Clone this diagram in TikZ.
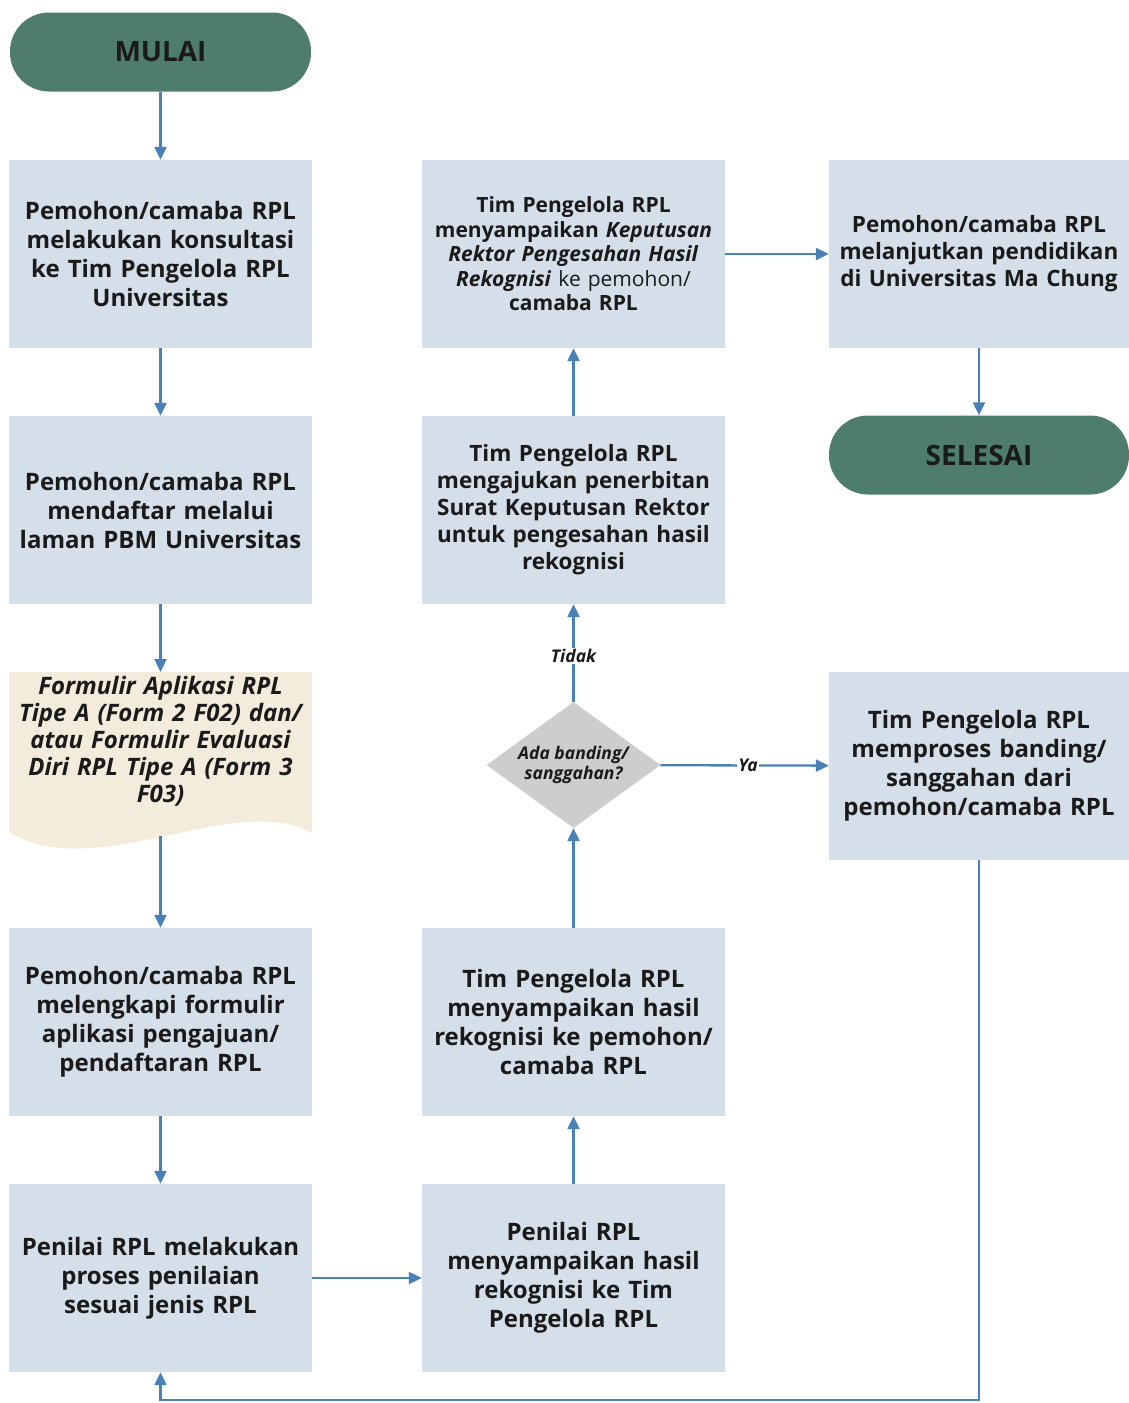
\documentclass[tikz,border=0pt]{standalone}
\usepackage{fontspec}
\setmainfont{Open Sans}
\usetikzlibrary{shapes.geometric,arrows.meta}
\definecolor{boxc}{HTML}{D5DFE9}
\definecolor{termc}{HTML}{4E7C6D}
\definecolor{arrc}{HTML}{4A80B8}
\definecolor{docc}{HTML}{F3EBDB}
\definecolor{diac}{HTML}{CDCDCD}
\definecolor{txtc}{HTML}{1A1A1A}
\tikzset{
  procbox/.style={rectangle, fill=boxc, minimum width=303pt, minimum height=188pt, text width=298pt, align=center, text=txtc, inner sep=0pt, font=\fontsize{24}{29}\selectfont\bfseries},
  termbox/.style={rectangle, rounded corners=39pt, fill=termc, minimum width=301pt, minimum height=79pt, text=txtc, font=\fontsize{28}{30}\selectfont\bfseries},
  decbox/.style={diamond, fill=diac, minimum width=174pt, minimum height=126pt, aspect=1.38, inner sep=0pt, align=center, text=txtc, font=\fontsize{17.5}{20}\selectfont\bfseries\itshape},
  flow/.style={draw=arrc, line width=2.3pt, -{Triangle[length=13pt,width=12pt]}},
  lbl/.style={fill=white, inner sep=1pt, text=txtc, font=\fontsize{17.5}{20}\selectfont\bfseries\itshape}
}
\begin{document}
\begin{tikzpicture}[x=1pt,y=-1pt]
\useasboundingbox (0,0) rectangle (1129,1403);
% left column
\node[termbox] (mulai) at (160.5,52) {MULAI};
\node[procbox] (b1) at (160.5,254) {Pemohon/camaba RPL\\melakukan konsultasi\\ke Tim Pengelola RPL\\Universitas};
\node[procbox] (b2) at (160.5,510) {Pemohon/camaba RPL\\mendaftar melalui\\laman PBM Universitas};
% document shape
\fill[docc] (9,672) -- (312,672) -- (312,833) .. controls (235,790) and (95,885) .. (9,832) -- cycle;
\node[text width=298pt, align=center, text=txtc, font=\fontsize{24}{27}\selectfont\bfseries\itshape, inner sep=0pt] (doc) at (160.5,741) {Formulir Aplikasi RPL\\Tipe A (Form 2 F02) dan/\\atau Formulir Evaluasi\\Diri RPL Tipe A (Form 3\\F03)};
\coordinate (doctop) at (160.5,672);
\coordinate (docbot) at (160.5,836);
\node[procbox] (b4) at (160.5,1022) {Pemohon/camaba RPL\\melengkapi formulir\\aplikasi pengajuan/\\pendaftaran RPL};
\node[procbox] (b5) at (160.5,1278) {Penilai RPL melakukan\\proses penilaian\\sesuai jenis RPL};
% middle column
\node[procbox] (m5) at (573.5,1278) {Penilai RPL\\menyampaikan hasil\\rekognisi ke Tim\\Pengelola RPL};
\node[procbox] (m4) at (573.5,1022) {Tim Pengelola RPL\\menyampaikan hasil\\rekognisi ke pemohon/\\camaba RPL};
\node[decbox] (dec) at (573.5,765) {Ada banding/\\sanggahan?};
\node[procbox, font=\fontsize{22.5}{27}\selectfont\bfseries] (m2) at (573.5,510) {Tim Pengelola RPL\\mengajukan penerbitan\\Surat Keputusan Rektor\\untuk pengesahan hasil\\rekognisi};
\node[procbox, font=\fontsize{21}{24.5}\selectfont\bfseries] (m1) at (573.5,254) {Tim Pengelola RPL\\menyampaikan \textit{Keputusan}\\\textit{Rektor Pengesahan Hasil}\\\textit{Rekognisi} \mdseries ke pemohon/\\\bfseries camaba RPL};
% right column
\node[procbox, minimum width=300pt, font=\fontsize{22.5}{27}\selectfont\bfseries] (r1) at (979,254) {Pemohon/camaba RPL\\melanjutkan pendidikan\\di Universitas Ma Chung};
\node[termbox, minimum width=300pt] (selesai) at (979,455) {SELESAI};
\node[procbox, minimum width=300pt] (r3) at (979,766) {Tim Pengelola RPL\\memproses banding/\\sanggahan dari\\pemohon/camaba RPL};
% connectors
\draw[flow] (mulai) -- (b1);
\draw[flow] (b1) -- (b2);
\draw[flow] (b2) -- (doctop);
\draw[flow] (docbot) -- (b4);
\draw[flow] (b4) -- (b5);
\draw[flow] (b5) -- (m5);
\draw[flow] (m5) -- (m4);
\draw[flow] (m4) -- (dec);
\draw[flow] (dec) -- node[lbl, pos=0.47] {Tidak} (m2);
\draw[flow] (m2) -- (m1);
\draw[flow] (m1) -- (r1);
\draw[flow] (r1) -- (selesai);
\draw[flow] (dec) -- node[lbl, pos=0.52] {Ya} (r3);
\coordinate (loopc) at (979,1400);
\draw[flow] (r3.south) -- (loopc) -| (b5.south);
\end{tikzpicture}
\end{document}
